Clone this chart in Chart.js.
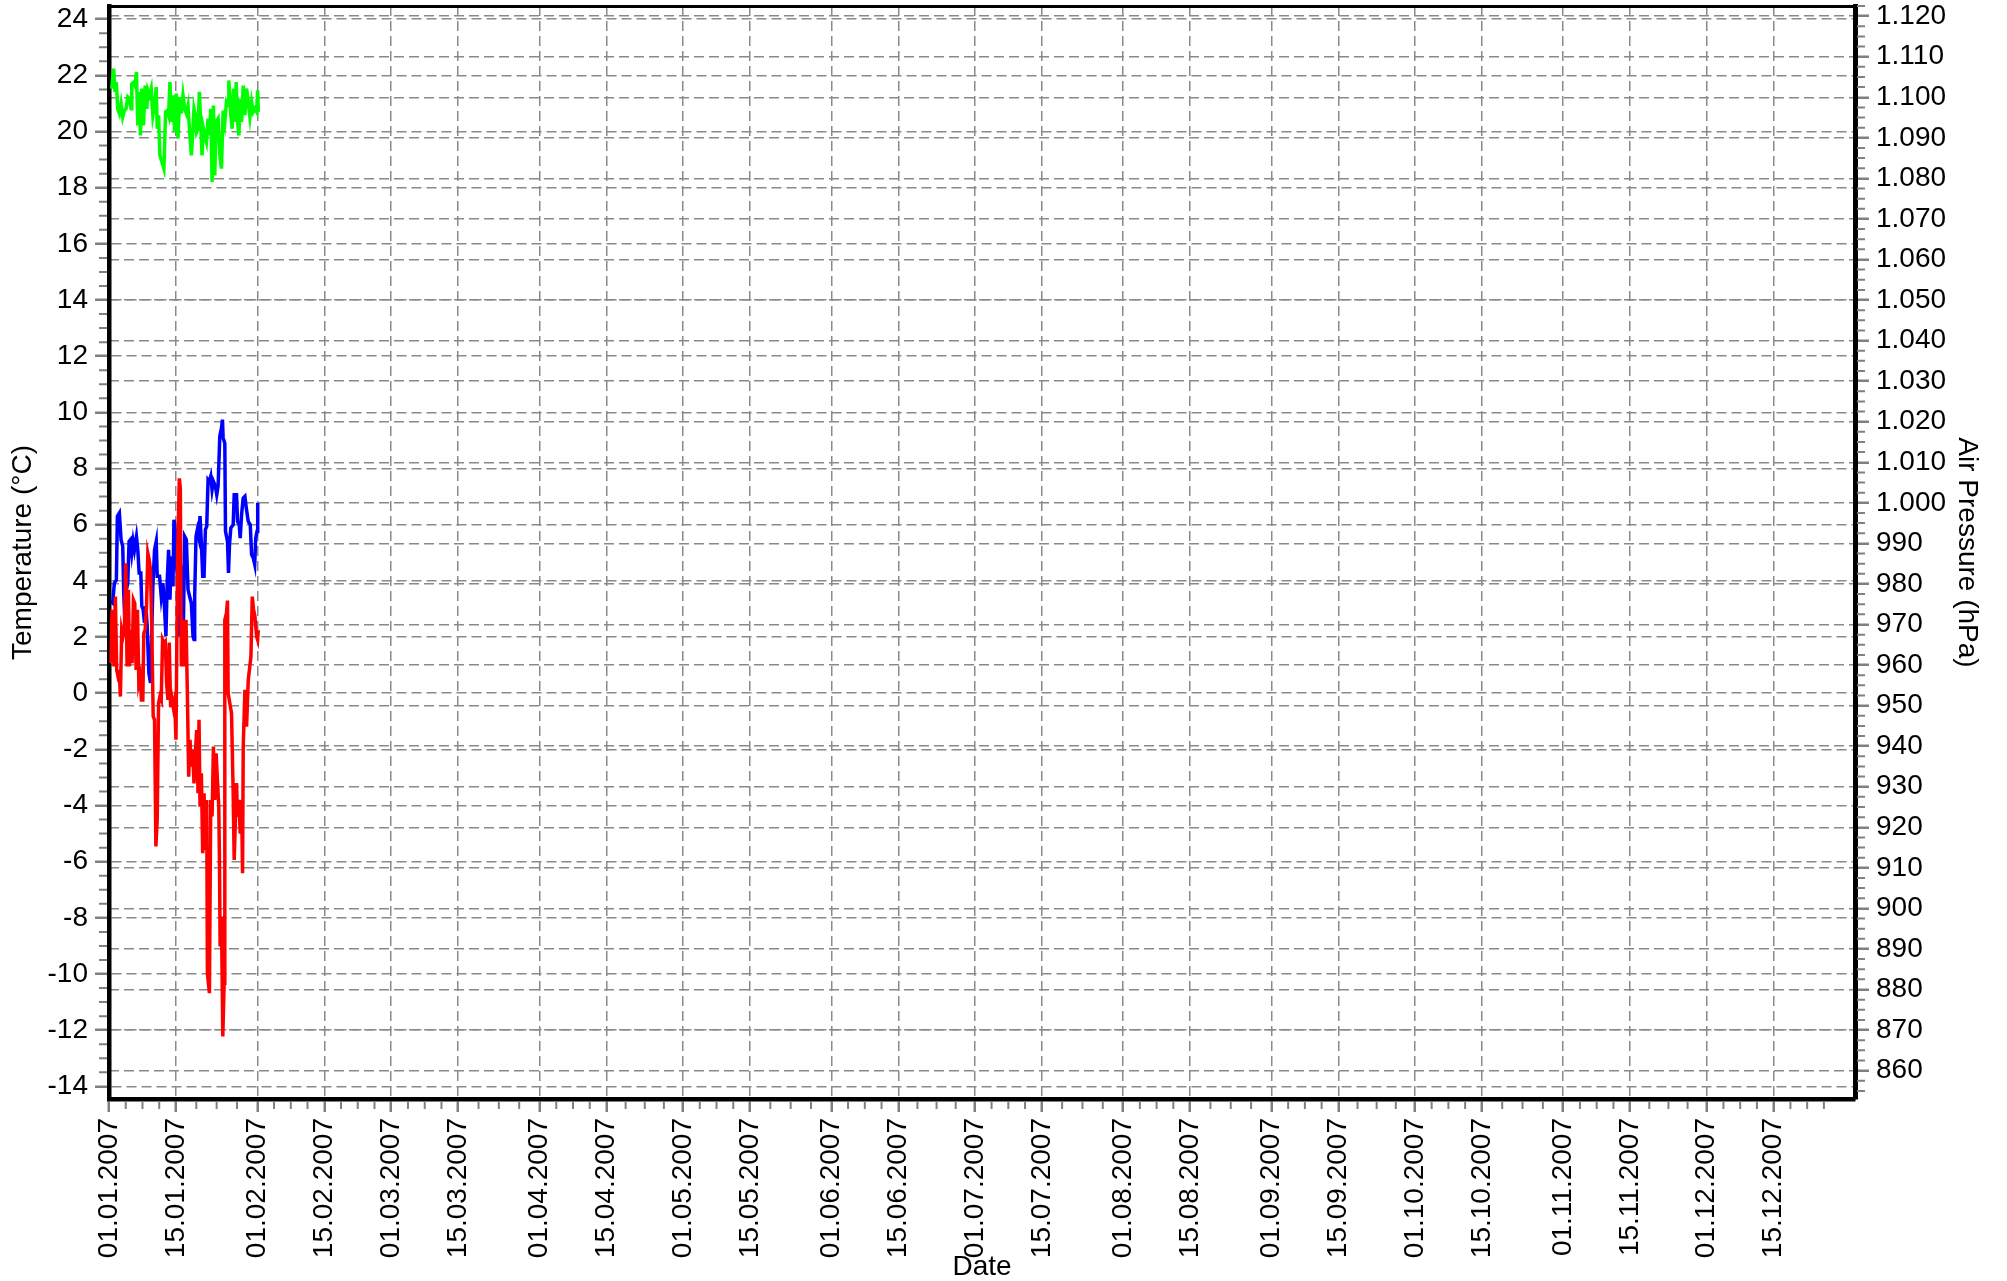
<!DOCTYPE html>
<html>
<head>
<meta charset="utf-8">
<script src="https://cdn.jsdelivr.net/npm/chart.js@4.4.1/dist/chart.umd.min.js"></script>
<style>
  html, body { margin: 0; padding: 0; background: #fff; }
  #wrap { width: 2007px; height: 1281px; position: relative; }
</style>
</head>
<body>
<div id="wrap"><canvas id="c"></canvas></div>
<script>
// ---- Data (x = days since 01.01.2007) ----
const greenDays = [0.56,0.98,1.26,1.54,1.82,2.17,2.52,2.87,3.22,3.57,3.92,4.27,4.62,4.76,5.18,5.46,5.74,6.02,6.30,6.58,6.86,7.21,7.56,7.91,8.12,8.47,8.82,9.17,9.52,9.87,10.08,10.36,10.64,11.06,11.48,11.83,12.18,12.46,12.74,13.02,13.37,13.72,14.07,14.42,14.77,15.12,15.47,15.82,16.17,16.52,16.86,17.21,17.49,17.77,18.05,18.33,18.61,18.89,19.17,19.45,19.73,20.01,20.36,20.71,20.99,21.27,21.55,21.83,22.11,22.39,22.81,23.16,23.51,23.86,24.21,24.56,24.91,25.05,25.47,25.75,26.03,26.31,26.59,26.87,27.15,27.43,27.71,28.06,28.41,28.76,29.11,29.46,29.81,30.16,30.51,30.86,31.07,31.21];
const greenTemps = [21.53,22.24,21.41,21.76,20.81,20.64,20.99,20.52,20.75,20.81,21.23,21.17,20.81,21.70,21.76,21.64,22.12,20.22,21.41,19.86,21.53,20.22,21.64,20.81,21.47,21.29,21.53,20.58,20.93,21.58,20.10,20.58,19.15,18.92,18.68,20.70,20.75,20.58,21.76,20.34,21.29,19.98,21.35,19.75,21.23,20.64,21.29,20.81,20.64,20.93,19.98,19.15,19.86,20.81,20.58,19.98,20.10,21.41,20.34,19.15,20.10,19.86,19.63,20.46,19.86,20.81,18.20,20.93,18.44,20.34,20.46,19.15,18.68,20.75,20.34,21.05,20.93,21.82,20.58,20.10,21.53,20.34,21.76,20.34,19.86,21.17,20.34,21.64,20.58,21.53,21.05,20.52,21.05,20.70,20.81,20.70,21.47,20.70];

const blueDays = [0.42,0.77,1.12,1.54,1.75,2.17,2.52,2.87,3.08,3.36,3.64,3.92,4.20,4.48,4.76,5.04,5.32,5.74,6.02,6.30,6.65,6.86,7.14,7.42,7.70,7.98,8.33,8.68,8.96,9.17,9.52,9.87,10.08,10.57,10.92,11.27,11.62,11.90,12.18,12.46,12.74,13.02,13.37,13.58,13.86,14.14,14.42,14.70,14.98,15.26,15.54,15.82,16.17,16.52,16.86,17.21,17.56,17.77,17.91,18.19,18.47,18.75,19.03,19.31,19.59,19.87,20.15,20.43,20.71,20.99,21.27,21.55,21.83,22.25,22.53,22.81,23.16,23.51,23.72,23.86,24.21,24.35,24.77,24.98,25.19,25.47,25.96,26.17,26.66,26.87,27.22,27.43,27.71,28.06,28.41,28.70,29.11,29.53,29.81,30.16,30.46,30.67,30.95,31.09];
const bluePressure = [975.7,975.3,980.2,981.0,996.7,997.5,990.9,989.3,977.8,969.6,978.6,980.2,990.5,990.9,987.6,990.5,988.4,991.7,988.4,982.7,982.7,974.5,973.7,970.4,974.5,969.6,958.1,955.6,969.6,979.4,988.4,990.5,981.9,981.9,976.9,980.2,973.7,967.1,981.0,988.4,976.1,986.8,979.4,995.8,993.4,984.3,980.2,967.1,984.3,983.5,968.7,991.7,990.9,978.6,976.9,975.3,967.1,966.3,976.9,991.7,993.4,991.7,996.7,990.1,981.9,981.9,993.4,994.2,1005.7,1005.3,1006.5,1003.2,1005.3,1004.1,1002.0,1004.1,1016.4,1018.4,1020.5,1016.0,1014.7,993.0,990.5,982.7,989.7,993.8,994.6,1002.0,1002.0,995.4,994.6,991.3,997.1,1001.2,1001.6,998.7,995.4,994.6,987.2,986.4,984.8,991.3,993.0,1000.0];

const redDays = [0.42,0.63,0.84,1.05,1.33,1.61,1.89,2.17,2.38,2.66,2.94,3.22,3.50,3.78,4.06,4.27,4.55,4.83,5.11,5.39,5.67,5.95,6.23,6.51,6.79,7.07,7.28,7.56,7.84,8.12,8.40,8.68,8.96,9.24,9.52,9.80,10.08,10.36,10.64,10.92,11.20,11.48,11.76,12.04,12.32,12.60,12.88,13.16,13.44,13.72,14.00,14.35,14.70,14.91,15.12,15.40,15.68,16.10,16.38,16.66,16.93,17.21,17.49,17.77,18.05,18.33,18.61,18.82,19.03,19.31,19.59,19.87,20.15,20.43,20.57,20.99,21.27,21.55,21.83,22.11,22.39,22.67,22.95,23.09,23.23,23.51,23.79,24.07,24.21,24.56,24.77,24.91,25.61,25.96,26.17,26.66,26.87,27.15,27.43,27.71,27.92,28.06,28.41,28.76,29.11,29.67,29.95,30.23,30.51,30.86,31.07,31.21];
const redTemps = [1.07,2.97,2.02,0.95,3.44,0.83,0.59,0.71,-0.12,2.25,2.02,2.25,4.63,0.95,3.68,0.95,2.25,1.07,3.32,3.20,0.83,2.97,0.36,0.59,-0.24,-0.24,2.14,2.25,3.08,4.98,4.75,4.39,2.14,-0.83,-0.95,-5.46,-4.51,-0.36,-0.12,-0.24,1.90,1.78,1.84,0.36,-0.24,1.80,-0.50,-0.20,-0.50,-0.24,-1.66,5.00,7.65,7.30,0.95,2.61,0.95,2.61,0.00,-2.97,-1.66,-2.61,-2.02,-3.21,-2.14,-1.31,-3.56,-0.95,-4.04,-2.85,-5.70,-3.56,-5.58,-3.80,-9.97,-10.68,-3.80,-4.39,-1.90,-3.80,-2.14,-3.09,-4.04,-5.94,-9.02,-7.95,-12.22,-10.33,2.61,2.85,3.30,0.00,-0.71,-3.56,-5.94,-3.20,-4.40,-3.80,-5.00,-3.80,-6.41,-1.90,0.12,-1.19,0.47,1.30,3.44,2.97,2.73,2.02,1.90,2.25];

// ---- Ticks ----
const dateTickDays = [0,14,31,45,59,73,90,104,120,134,151,165,181,195,212,226,243,257,273,287,304,318,334,348];
const dateTickLabels = ["01.01.2007","15.01.2007","01.02.2007","15.02.2007","01.03.2007","15.03.2007","01.04.2007","15.04.2007","01.05.2007","15.05.2007","01.06.2007","15.06.2007","01.07.2007","15.07.2007","01.08.2007","15.08.2007","01.09.2007","15.09.2007","01.10.2007","15.10.2007","01.11.2007","15.11.2007","01.12.2007","15.12.2007"];
const dateEndDay = 365;
const tempTicks = [-14,-12,-10,-8,-6,-4,-2,0,2,4,6,8,10,12,14,16,18,20,22,24];
const pressureTicks = [860,870,880,890,900,910,920,930,940,950,960,970,980,990,1000,1010,1020,1030,1040,1050,1060,1070,1080,1090,1100,1110,1120];
const pressureTickLabels = ["860","870","880","890","900","910","920","930","940","950","960","970","980","990","1.000","1.010","1.020","1.030","1.040","1.050","1.060","1.070","1.080","1.090","1.100","1.110","1.120"];
const tempRange = [-14.45, 24.47];
const pressureRange = [853.0, 1122.5];

// ---- Chart ----
const W = 2007, H = 1281;
const AREA = { left: 109, right: 1855, top: 6, bottom: 1099 };
const FONT = "'Liberation Sans', Arial, Helvetica, sans-serif";
const FS = 28;
Chart.defaults.font.family = FONT;
Chart.defaults.font.size = FS;
Chart.defaults.color = '#000';

const GRID_COLOR = '#8a8a8a';
const TICK_COLOR = '#808080';
const DASH = [10, 5];

function pts(xs, ys) { return xs.map((x, i) => ({ x: x, y: ys[i] })); }
function setTicks(values) { return function (axis) { axis.ticks = values.map(v => ({ value: v })); }; }
function noPad(s) { s.paddingTop = 0; s.paddingBottom = 0; s.paddingLeft = 0; s.paddingRight = 0; }

// minor tick marks
const minorTicks = {
  id: 'minorTicks',
  afterDraw(chart) {
    const ctx = chart.ctx;
    const sx = chart.scales.x, sy = chart.scales.y, sy1 = chart.scales.y1;
    const ca = chart.chartArea;
    ctx.save();
    ctx.strokeStyle = TICK_COLOR;
    ctx.lineWidth = 2;
    ctx.beginPath();
    const majors = dateTickDays.concat([dateEndDay]);
    for (let i = 0; i < majors.length - 1; i++) {
      const a = majors[i], b = majors[i + 1];
      const step = (i === majors.length - 2) ? 3.5 : (b - a) / 4;
      for (let k = 1; k <= 3; k++) {
        const px = sx.getPixelForValue(a + step * k);
        ctx.moveTo(px, ca.bottom + 2); ctx.lineTo(px, ca.bottom + 10);
      }
    }
    for (let v = tempTicks[0]; v <= tempTicks[tempTicks.length - 1]; v += 0.5) {
      if (Math.abs(v % 2) < 1e-6) continue;
      const py = sy.getPixelForValue(v);
      ctx.moveTo(ca.left - 2, py); ctx.lineTo(ca.left - 10, py);
    }
    for (let v = 855; v <= 1122.5; v += 2.5) {
      if (Math.abs(v % 10) < 1e-6) continue;
      const py = sy1.getPixelForValue(v);
      ctx.moveTo(ca.right + 2, py); ctx.lineTo(ca.right + 10, py);
    }
    ctx.stroke();
    ctx.restore();
  }
};

new Chart(document.getElementById('c'), {
  type: 'line',
  data: {
    datasets: [
      { label: 'Outdoor temperature', data: pts(redDays, redTemps), borderColor: '#ff0000', yAxisID: 'y', xAxisID: 'x' },
      { label: 'Air pressure', data: pts(blueDays, bluePressure), borderColor: '#0000ff', yAxisID: 'y1', xAxisID: 'x' },
      { label: 'Indoor temperature', data: pts(greenDays, greenTemps), borderColor: '#00ff00', yAxisID: 'y', xAxisID: 'x' }
    ]
  },
  options: {
    responsive: true,
    maintainAspectRatio: false,
    animation: false,
    devicePixelRatio: 1,
    layout: { padding: 0 },
    elements: {
      line: { borderWidth: 3.5, tension: 0, fill: false, borderJoinStyle: 'miter' },
      point: { radius: 0, hoverRadius: 0 }
    },
    plugins: { legend: { display: false }, tooltip: { enabled: false } },
    events: [],
    scales: {
      x: {
        type: 'linear', position: 'bottom', min: 0, max: dateEndDay,
        afterBuildTicks: setTicks(dateTickDays),
        afterFit(s) { s.height = H - AREA.bottom; noPad(s); },
        ticks: {
          autoSkip: false, maxRotation: 90, minRotation: 90, padding: 6,
          callback: (v, i) => dateTickLabels[i]
        },
        grid: { color: GRID_COLOR, lineWidth: 1.5, tickLength: 13, tickColor: TICK_COLOR, tickWidth: 2.5, tickBorderDash: [] },
        border: { display: true, color: '#000', width: 4.5, dash: DASH },
        title: { display: true, text: 'Date', font: { size: FS, lineHeight: 1 }, padding: { top: 0, bottom: 0 } }
      },
      xTop: {
        type: 'linear', position: 'top', min: 0, max: dateEndDay,
        afterFit(s) { s.height = AREA.top; noPad(s); },
        ticks: { display: false },
        grid: { drawOnChartArea: false, drawTicks: false },
        border: { display: true, color: '#000', width: 3 }
      },
      y: {
        type: 'linear', position: 'left', min: tempRange[0], max: tempRange[1],
        afterBuildTicks: setTicks(tempTicks),
        afterFit(s) { s.width = AREA.left; noPad(s); },
        ticks: { autoSkip: false, padding: 7, callback: v => String(v) },
        grid: { color: GRID_COLOR, lineWidth: 1.5, tickLength: 14, tickColor: TICK_COLOR, tickWidth: 2.5, tickBorderDash: [] },
        border: { display: true, color: '#000', width: 4.5, dash: DASH },
        title: { display: true, text: 'Temperature (°C)', font: { size: FS }, padding: { top: 6, bottom: 0 } }
      },
      y1: {
        type: 'linear', position: 'right', min: pressureRange[0], max: pressureRange[1],
        afterBuildTicks: setTicks(pressureTicks),
        afterFit(s) { s.width = W - AREA.right; noPad(s); },
        ticks: { autoSkip: false, padding: 7, callback: (v, i) => pressureTickLabels[i] },
        grid: { color: GRID_COLOR, lineWidth: 1.5, tickLength: 14, tickColor: TICK_COLOR, tickWidth: 2.5, tickBorderDash: [] },
        border: { display: true, color: '#000', width: 5, dash: DASH },
        title: { display: true, text: 'Air Pressure (hPa)', font: { size: FS }, padding: { top: 23, bottom: 0 } }
      }
    }
  },
  plugins: [minorTicks]
});
</script>
</body>
</html>
